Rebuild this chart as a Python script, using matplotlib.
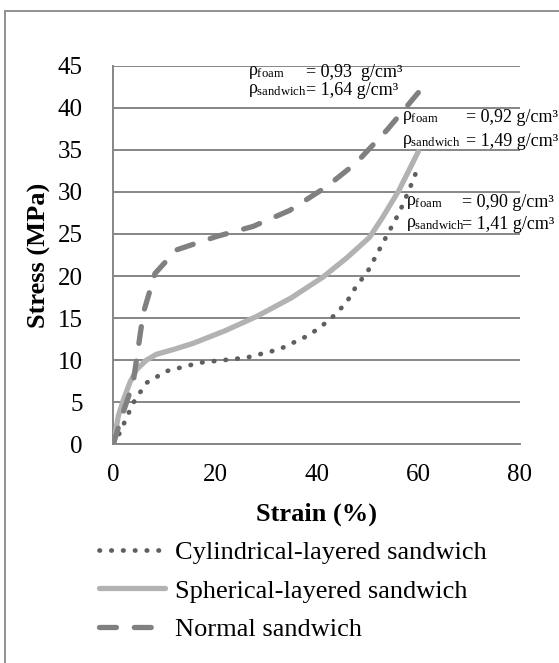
import matplotlib
matplotlib.use("Agg")
import matplotlib.pyplot as plt
from matplotlib.patches import Rectangle

plt.rcParams['font.family'] = ['Liberation Serif', 'DejaVu Serif']
plt.rcParams['mathtext.fontset'] = 'custom'
plt.rcParams['mathtext.rm'] = 'Liberation Serif'
plt.rcParams['mathtext.it'] = 'Liberation Serif'
plt.rcParams['mathtext.bf'] = 'Liberation Serif:bold'

# data
strain_cyl = [0, 1.3, 3.9, 6.5, 10.5, 17, 26.2, 32.7, 38.6, 42.6, 45.8, 47.8, 50, 53, 56.3, 58.3, 60]
stress_cyl = [0, 1.4, 4.9, 7.3, 8.7, 9.7, 10.3, 11.3, 13.0, 14.8, 16.8, 18.8, 20.5, 23.9, 27.6, 30.4, 33.0]

strain_sph = [0, 1.0, 2.0, 3.3, 4.6, 6.5, 8.5, 12, 15.7, 22, 28.2, 35, 41.3, 46, 50.4, 53, 56.2, 60]
stress_sph = [0, 3.4, 5.3, 7.4, 8.9, 10.0, 10.7, 11.3, 12.0, 13.5, 15.2, 17.4, 19.9, 22.2, 24.6, 27.0, 30.2, 34.8]

strain_norm = [0, 1.5, 3.9, 5.9, 8.2, 12.4, 20.3, 27.5, 34.7, 41.9, 47.7, 53.9, 60]
stress_norm = [0, 3.0, 7.3, 15.6, 20.3, 23.1, 24.7, 25.9, 27.8, 30.6, 33.4, 37.4, 41.8]

labels = ['Cylindrical-layered sandwich', 'Spherical-layered sandwich', 'Normal sandwich']

# (x, x of "=", y line1, y line2, rho_foam, rho_sandwich)
notes = [
    (26.4, 38.0, 44.2, 42.1, '0,93  g/cm³', '1,64 g/cm³'),
    (56.8, 69.3, 38.8, 36.0, '0,92 g/cm³', '1,49 g/cm³'),
    (57.6, 68.6, 28.7, 26.1, '0,90 g/cm³', '1,41 g/cm³'),
]

fig = plt.figure(figsize=(5.59, 6.63), dpi=100)
ax = fig.add_axes([113.3 / 559, 1 - 444.3 / 663, (520 - 113.3) / 559, (444.3 - 65.7) / 663])

gc = '#868686'
ax.plot(strain_cyl, stress_cyl, color='#5f5f5f', lw=3.4, linestyle=(0, (0.1, 2.4)),
        dash_capstyle='round', label=labels[0], zorder=3)
ax.plot(strain_sph, stress_sph, color='#b2b2b2', lw=3.8, solid_capstyle='round',
        label=labels[1], zorder=3)
ax.plot(strain_norm, stress_norm, color='#808080', lw=3.8, linestyle=(0, (3.2, 3.4)),
        dash_capstyle='round', label=labels[2], zorder=3)

ax.set_xlim(0, 80)
ax.set_ylim(0, 45)
ax.set_xticks(range(0, 81, 20))
ax.set_yticks(range(0, 46, 5))
ax.tick_params(length=0, labelsize=18, colors='black')
ax.tick_params(axis='y', pad=22)
ax.tick_params(axis='x', pad=14)
ax.grid(axis='y', color=gc, lw=1.4)
ax.set_axisbelow(True)
for s in ['top', 'right']:
    ax.spines[s].set_visible(False)
for s in ['left', 'bottom']:
    ax.spines[s].set_color(gc)
    ax.spines[s].set_linewidth(1.4)

ax.set_xlabel('Strain (%)', fontsize=19, fontweight='bold', labelpad=12)
ax.set_ylabel('Stress (MPa)', fontsize=19, fontweight='bold', labelpad=5)

for x, xe, y1, y2, f, s in notes:
    ax.text(x, y1, r'$\rho_{\mathrm{foam}}$', fontsize=13, va='center', clip_on=False)
    ax.text(x, y2, r'$\rho_{\mathrm{sandwich}}$', fontsize=13, va='center', clip_on=False)
    ax.text(xe, y1, '= ' + f, fontsize=13, va='center', clip_on=False)
    ax.text(xe, y2, '= ' + s, fontsize=13, va='center', clip_on=False)

fig.legend(loc='upper left', bbox_to_anchor=(88 / 559, 1 - 530 / 663), frameon=False,
           fontsize=19, handlelength=2.5, handletextpad=0.38, labelspacing=0.57,
           borderaxespad=0)

fig.add_artist(Rectangle((5 / 559, -0.1), 1.2, 1 - 11 / 663 + 0.1, transform=fig.transFigure,
                         fill=False, edgecolor='#909090', lw=1.4))

fig.savefig('out.png', dpi=100)
